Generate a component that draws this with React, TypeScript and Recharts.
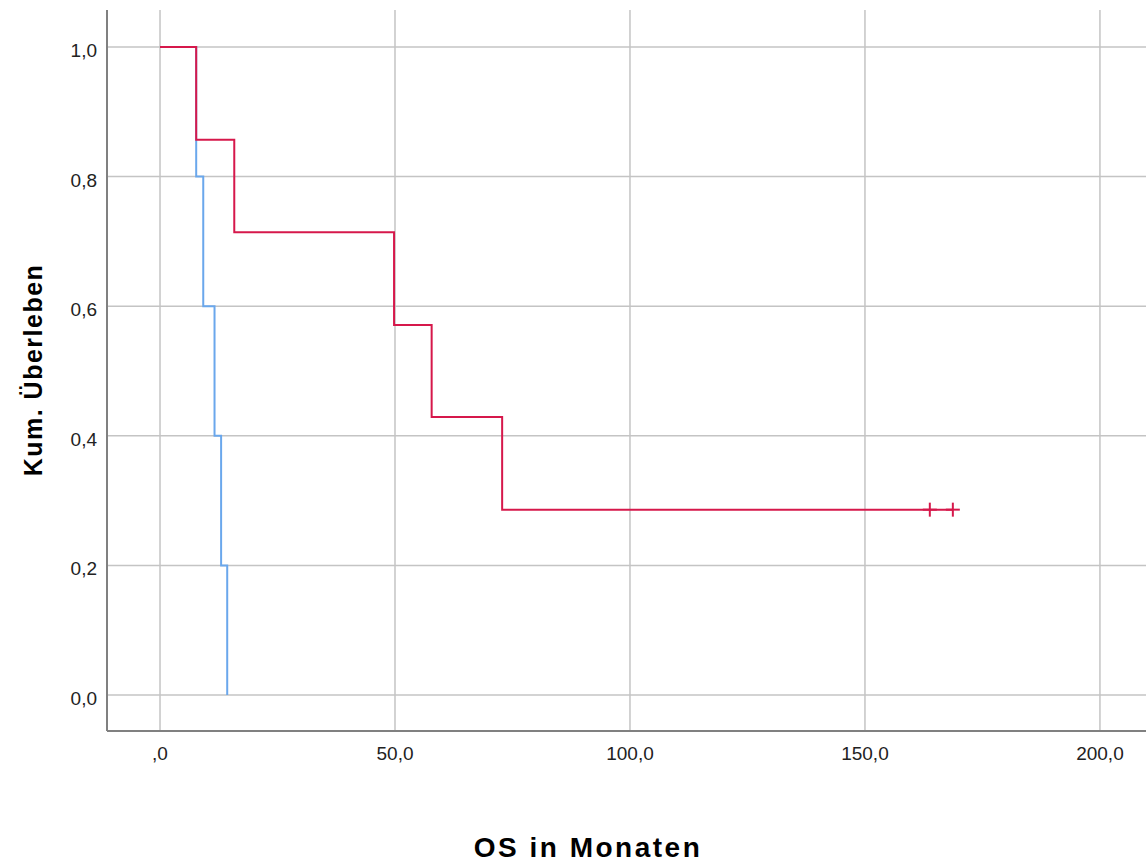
import {
	ComposedChart,
	Line,
	Scatter,
	XAxis,
	YAxis,
	CartesianGrid,
	Label,
} from "recharts";

// Kaplan-Meier steps (months, cumulative survival)
const blueTimes = [0, 7.7, 9.2, 11.6, 13.0, 14.3];
const blueSurv = [1.0, 0.8, 0.6, 0.4, 0.2, 0.0];

const redTimes = [0, 7.7, 15.8, 49.8, 57.8, 72.8, 168.7];
const redSurv = [1.0, 0.857, 0.714, 0.571, 0.429, 0.286, 0.286];

const redCensoredTimes = [163.8, 168.7];
const redCensoredSurv = [0.286, 0.286];

const xTicks = [0, 50, 100, 150, 200];
const yTicks = [0, 0.2, 0.4, 0.6, 0.8, 1.0];

const blueData = blueTimes.map((t, i) => ({ t, s: blueSurv[i] }));
const redData = redTimes.map((t, i) => ({ t, s: redSurv[i] }));
const censorData = redCensoredTimes.map((t, i) => ({ t, s: redCensoredSurv[i] }));

const RED = "#d6184b";
const BLUE = "#6aa7ec";
const FONT = "Arial, 'Liberation Sans', sans-serif";

function fmtX(v: number): string {
	if (v === 0) return ",0";
	return v.toFixed(1).replace(".", ",");
}

function fmtY(v: number): string {
	return v.toFixed(1).replace(".", ",");
}

function XTick(props: any) {
	const { x, y, payload } = props;
	return (
		<text x={x} y={y + 21} textAnchor="middle" fontSize={19} fill="#222" fontFamily={FONT}>
			{fmtX(payload.value)}
		</text>
	);
}

function YTick(props: any) {
	const { x, y, payload } = props;
	return (
		<text x={x - 2} y={y + 10} textAnchor="end" fontSize={19} fill="#222" fontFamily={FONT}>
			{fmtY(payload.value)}
		</text>
	);
}

function Plus(props: any) {
	const { cx, cy } = props;
	return (
		<g stroke={RED} strokeWidth={2}>
			<line x1={cx - 7} y1={cy} x2={cx + 7} y2={cy} />
			<line x1={cx} y1={cy - 7} x2={cx} y2={cy + 7} />
		</g>
	);
}

export default function App() {
	return (
		<div style={{ position: "absolute", left: 0, top: 0, background: "#fff" }}>
			<ComposedChart
				width={1146}
				height={863}
				margin={{ top: 10, right: 0, bottom: 0, left: 0 }}
			>
				<CartesianGrid stroke="#c4c4c4" strokeWidth={1.5} horizontalValues={yTicks} verticalValues={xTicks} />
				<XAxis
					type="number"
					dataKey="t"
					domain={[-11.28, 209.8]}
					ticks={xTicks}
					tick={XTick}
					tickLine={false}
					axisLine={{ stroke: "#808080", strokeWidth: 2 }}
					height={132}
					allowDataOverflow
				>
					<Label
						content={() => (
							<text
								x={588}
								y={857}
								textAnchor="middle"
								fontSize={28}
								fontWeight="bold"
								letterSpacing={2.5}
								fontFamily={FONT}
								fill="#000"
							>
								OS in Monaten
							</text>
						)}
					/>
				</XAxis>
				<YAxis
					type="number"
					dataKey="s"
					domain={[-0.0556, 1.0571]}
					ticks={yTicks}
					tick={YTick}
					tickLine={false}
					axisLine={{ stroke: "#808080", strokeWidth: 2 }}
					width={107}
					allowDataOverflow
				>
					<Label
						content={() => (
							<text
								x={0}
								y={0}
								transform="translate(42 370) rotate(-90)"
								textAnchor="middle"
								fontSize={25}
								fontWeight="bold"
								letterSpacing={1.5}
								fontFamily={FONT}
								fill="#000"
							>
								Kum. Überleben
							</text>
						)}
					/>
				</YAxis>
				<Line
					data={blueData}
					dataKey="s"
					type="stepAfter"
					stroke={BLUE}
					strokeWidth={2}
					dot={false}
					activeDot={false}
					isAnimationActive={false}
				/>
				<Line
					data={redData}
					dataKey="s"
					type="stepAfter"
					stroke={RED}
					strokeWidth={2}
					dot={false}
					activeDot={false}
					isAnimationActive={false}
				/>
				<Scatter data={censorData} dataKey="s" shape={Plus} isAnimationActive={false} />
			</ComposedChart>
		</div>
	);
}
